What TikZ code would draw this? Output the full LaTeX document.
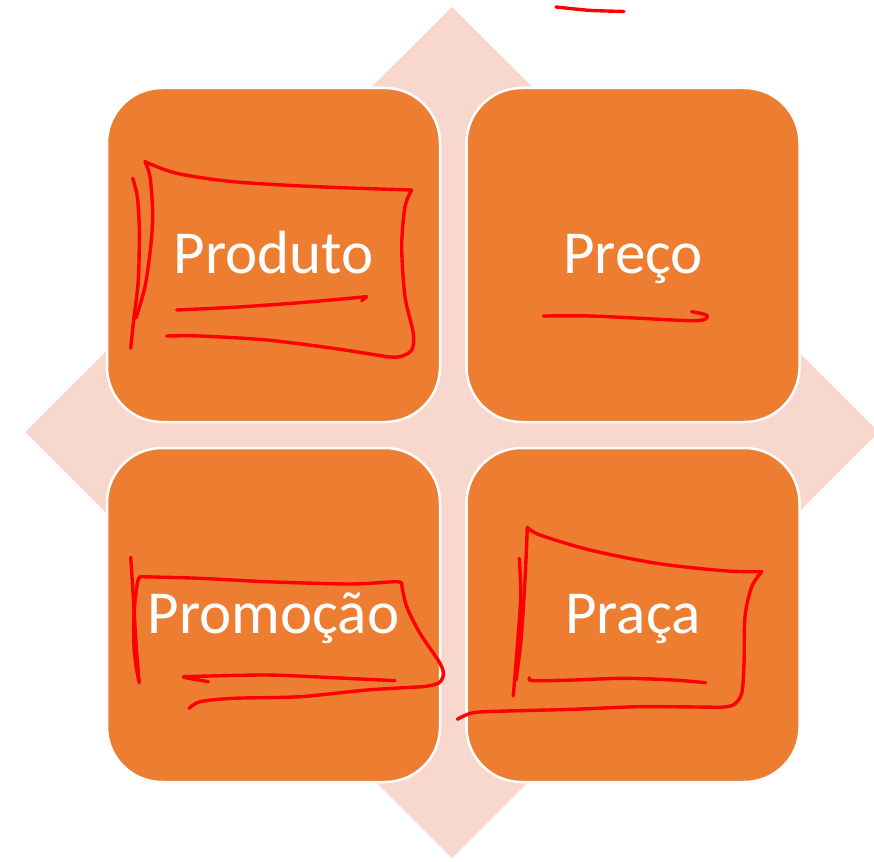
\documentclass[tikz,border=0pt]{standalone}
\usepackage{fontspec}
\setmainfont{Carlito}
\definecolor{diam}{HTML}{F8D7CD}
\definecolor{orng}{HTML}{ED7D31}
\definecolor{ink}{HTML}{FF0000}
\begin{document}
\begin{tikzpicture}[x=1pt,y=-1pt,
  box/.style={draw=white,line width=2.5pt,fill=orng,rounded corners=55pt,
    minimum width=333pt,minimum height=334pt,inner sep=0pt,text=white,
    font=\fontsize{61}{72}\selectfont,text height=36pt,text depth=0pt},
  pen/.style={draw=ink,line width=3.4pt,line cap=round,line join=round}]
\useasboundingbox (0,0) rectangle (874,861);
\clip (0,0) rectangle (874,861);
\fill[diam] (452,7) -- (879,432) -- (452,858) -- (25,432) -- cycle;
\node[box] (produto) at (273.5,255) {Produto};
\node[box] (preco) at (633,255) {Preço};
\node[box] (promocao) at (273.5,615) {Promoção};
\node[box] (praca) at (633,615) {Praça};
% top stroke
\draw[pen] plot[smooth] coordinates {(556,7) (575,9) (592,10.5) (624,11.5)};
% Produto
\draw[pen] plot[smooth] coordinates {(132.7,178.3) (137.3,196.7) (139.3,230) (138.3,280) (133.3,323.3) (130.7,348.3)};
\draw[pen] plot[smooth] coordinates {(136,318) (145,286.7) (150.7,246.7) (152.7,213.3) (150,176.7) (145,161.7)};
\draw[pen] plot[smooth] coordinates {(145,161.7) (176.7,173.3) (233.3,181.7) (316.7,186.7) (411.7,190)};
\draw[pen] plot[smooth] coordinates {(411.7,190) (405,206.7) (401.7,246.7) (405,296.7) (413.3,333.3) (411.7,350) (400,356.7) (386.7,356.7)};
\draw[pen] plot[smooth] coordinates {(386.7,356.7) (333.3,348.3) (266.7,340) (200,336) (166.7,336)};
\draw[pen] plot[smooth] coordinates {(176.7,310) (233.3,307.3) (300,302.7) (366.7,296.7)};
\draw[pen] (366.7,296.7) -- (361.7,300.7);
% Preco
\draw[pen] plot[smooth] coordinates {(543.3,316) (590,316) (640,318.3) (690,320.7) (705,319.3) (706.7,315) (691.7,311.7)};
% Promocao
\draw[pen] plot[smooth] coordinates {(130.7,557.3) (133.3,596.7) (136,643.3) (139,681.7)};
\draw[pen] plot[smooth] coordinates {(140,576.7) (137.3,583.3) (134,613.3) (134,646.7) (136.7,670) (139.3,682.7)};
\draw[pen] plot[smooth] coordinates {(140,576.7) (200,578.3) (266.7,581.7) (350,584) (396.7,581.7) (401.7,585)};
\draw[pen] plot[smooth] coordinates {(401.7,585) (406.7,606.7) (420,633.3) (440,663.3) (443.3,675) (438.3,683.3) (423.3,686.7)};
\draw[pen] plot[smooth] coordinates {(423.3,686.7) (366.7,690) (300,696.7) (233.3,698.3) (200,701.7) (189.3,708.3)};
\draw[pen] plot[smooth] coordinates {(183.3,676.7) (266.7,675) (333.3,677.7) (395,680.7)};
\draw[pen] (183.3,677.3) -- (208.3,681.7);
% Praca
\draw[pen] plot[smooth] coordinates {(519.3,558.3) (520.7,596.7) (517.3,646.7) (513.3,696)};
\draw[pen] plot[smooth] coordinates {(516,680) (521,640) (525,580) (527.3,527.3)};
\draw[pen] plot[smooth] coordinates {(527.3,527.3) (540,535) (590,550) (656.7,563.3) (723.3,570.7) (761.7,571.7)};
\draw[pen] plot[smooth] coordinates {(761.7,571.7) (751.7,586.7) (745,616.7) (744,663.3) (741.7,693.3) (733.3,705) (720,707.3)};
\draw[pen] plot[smooth] coordinates {(720,707.3) (640,706.7) (573.3,709.3) (506.7,711) (473.3,712.7) (457.3,719.3)};
\draw[pen] plot[smooth] coordinates {(529.3,677.7) (533.3,680.7) (573.3,680) (623.3,678.3) (673.3,680) (705.7,682.7)};
\end{tikzpicture}
\end{document}
